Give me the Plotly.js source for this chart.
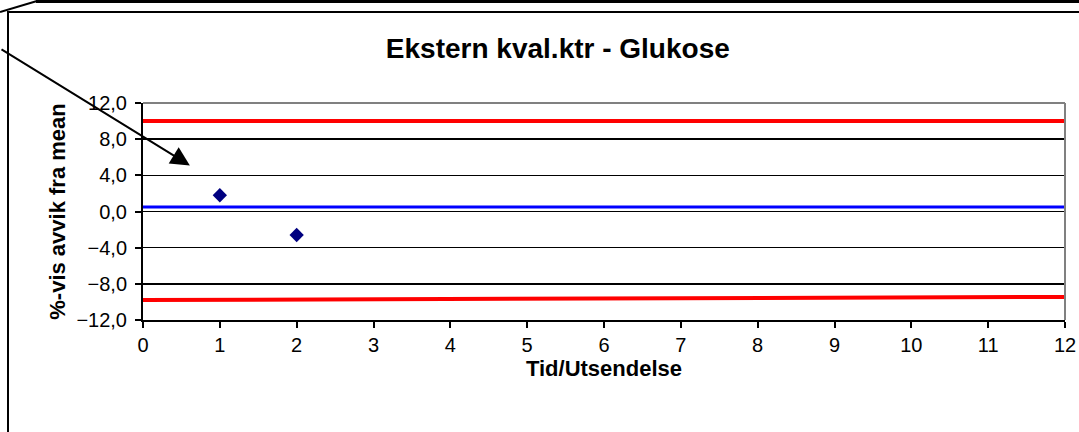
<!DOCTYPE html>
<html>
<head>
<meta charset="utf-8">
<script src="https://cdn.plot.ly/plotly-3.0.1.min.js"></script>
<style>
  html, body { margin: 0; padding: 0; background: #fff; }
  #wrap { position: relative; width: 1079px; height: 432px; }
  #chart { position: absolute; left: 0; top: 0; width: 1079px; height: 432px; }
  #frame { position: absolute; left: 0; top: 0; pointer-events: none; }
</style>
</head>
<body>
<div id="wrap">
  <div id="chart"></div>
  <svg id="frame" width="1079" height="432">
    <line x1="0" y1="12" x2="37" y2="1" stroke="#000" stroke-width="2"/>
    <line x1="36" y1="1.5" x2="1079" y2="1.5" stroke="#000" stroke-width="3"/>
    <line x1="8" y1="12" x2="1079" y2="12" stroke="#000" stroke-width="2"/>
    <line x1="8" y1="11" x2="8" y2="432" stroke="#000" stroke-width="2"/>
  </svg>
</div>
<script>
// Data
var limitX = [0, 12];
var upperLimit = [10.0, 10.0];
var lowerLimit = [-9.8, -9.45];
var meanLine = [0.5, 0.5];
var pointX = [1, 2];
var pointY = [1.8, -2.6];
var xTicks = [0,1,2,3,4,5,6,7,8,9,10,11,12];
var yTicks = [-12,-8,-4,0,4,8,12];

var font = "Liberation Sans, Arial, sans-serif";

var traces = [
  { x: limitX, y: upperLimit, mode: 'lines', line: {color: '#FF0000', width: 4}, hoverinfo: 'skip' },
  { x: limitX, y: lowerLimit, mode: 'lines', line: {color: '#FF0000', width: 4}, hoverinfo: 'skip' },
  { x: limitX, y: meanLine, mode: 'lines', line: {color: '#0000FF', width: 3}, hoverinfo: 'skip' },
  { x: pointX, y: pointY, mode: 'markers', marker: {symbol: 'diamond', color: '#000080', size: 11} }
];

var layout = {
  width: 1079, height: 432,
  margin: {l: 143, r: 14, t: 103, b: 112},
  paper_bgcolor: 'rgba(0,0,0,0)',
  plot_bgcolor: '#fff',
  showlegend: false,
  separators: ',.',
  font: {family: font, color: '#000', size: 20},
  title: {
    text: '<b>Ekstern kval.ktr - Glukose</b>',
    font: {family: font, size: 28, color: '#000'},
    x: 0.517, xanchor: 'center',
    yref: 'container', y: 1 - 48/432, yanchor: 'middle'
  },
  xaxis: {
    range: [0, 12],
    tickvals: xTicks,
    ticktext: xTicks.map(String),
    ticks: 'outside', ticklen: 6, tickwidth: 2, tickcolor: '#000',
    showline: true, linecolor: '#000', linewidth: 2,
    showgrid: false, zeroline: false,
    tickfont: {family: font, size: 20},
    title: {text: '<b>Tid/Utsendelse</b>', font: {family: font, size: 22}, standoff: 3}
  },
  yaxis: {
    range: [-12, 12],
    tickvals: yTicks,
    tickformat: '.1f',
    ticks: 'outside', ticklen: 6, tickwidth: 2, tickcolor: '#000',
    ticklabelstandoff: 4,
    showline: true, linecolor: '#000', linewidth: 2,
    showgrid: true, gridcolor: '#000', gridwidth: 1.5,
    zeroline: false,
    tickfont: {family: font, size: 20},
    title: {text: '<b>%-vis avvik fra mean</b>', font: {family: font, size: 22}, standoff: 5}
  },
  shapes: [
    {type: 'line', xref: 'paper', yref: 'paper', x0: 0, x1: 1, y0: 1, y1: 1, line: {color: '#808080', width: 2}, layer: 'above'},
    {type: 'line', xref: 'paper', yref: 'paper', x0: 1, x1: 1, y0: 0, y1: 1, line: {color: '#808080', width: 2}, layer: 'above'}
  ],
  annotations: [
    {x: 0.61, y: 5.1, xref: 'x', yref: 'y', text: '', showarrow: true,
     ax: -190, ay: -117, arrowhead: 2, arrowsize: 1.9, arrowwidth: 2, arrowcolor: '#000'}
  ]
};

Plotly.newPlot('chart', traces, layout, {displayModeBar: false, staticPlot: true});
</script>
</body>
</html>
